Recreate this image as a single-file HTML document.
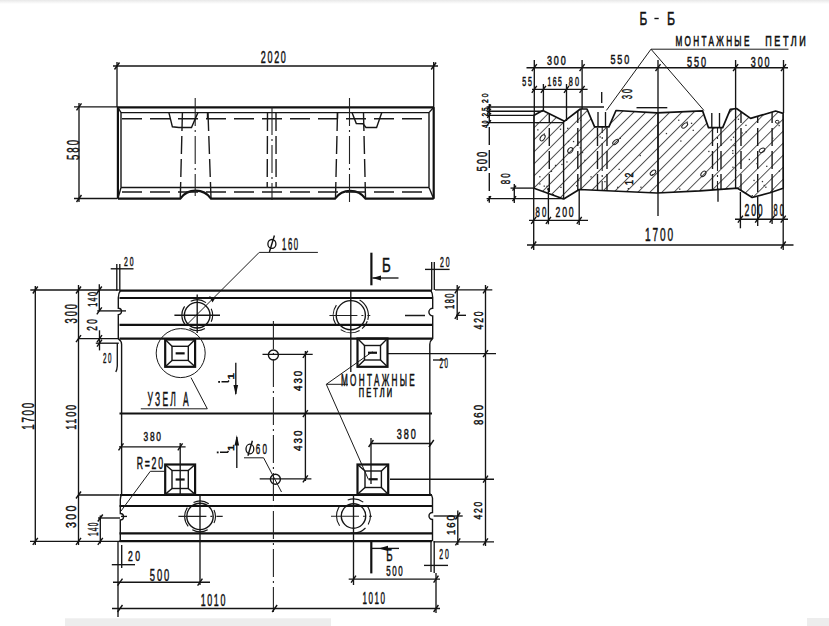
<!DOCTYPE html>
<html><head><meta charset="utf-8"><style>
html,body{margin:0;padding:0;background:#fff;}
body{width:829px;height:626px;overflow:hidden;}
svg{display:block;}
.s{stroke:#151515;stroke-width:1.35;fill:none;}
.l{stroke:#1a1a1a;stroke-width:1;fill:none;}
.k{stroke:#111;stroke-width:1.4;fill:none;}
.t{stroke:#111;stroke-width:2.2;fill:none;}
.m{stroke:#151515;stroke-width:1.4;fill:none;}
.d{stroke:#1a1a1a;stroke-width:1.4;fill:none;stroke-dasharray:18 5;}
.h{stroke:#1a1a1a;stroke-width:1.5;fill:none;stroke-dasharray:20 8;}
.c{stroke:#222;stroke-width:1.1;fill:none;stroke-dasharray:28 4 2 4;}
text{font-family:"Liberation Sans",sans-serif;fill:#111;stroke:#111;stroke-width:0.5px;}
text.thin{stroke-width:0.6px;}
</style></head><body>
<svg width="829" height="626" viewBox="0 0 829 626">
<defs>
<pattern id="hatch" patternUnits="userSpaceOnUse" width="8.5" height="8.5" patternTransform="rotate(45)">
<line x1="0" y1="0" x2="0" y2="8.5" stroke="#1a1a1a" stroke-width="1.45"/>
</pattern>
</defs>
<rect width="829" height="626" fill="#fff"/>

<line class="s" x1="113" y1="66" x2="438" y2="66"/>
<line class="s" x1="117" y1="62" x2="117" y2="107"/>
<line class="s" x1="433.7" y1="62" x2="433.7" y2="108"/>
<line class="k" x1="114.5" y1="69.5" x2="119.5" y2="62.5"/>
<line class="k" x1="431.2" y1="69.5" x2="436.1" y2="62.5"/>
<text transform="translate(260.8 62.7) scale(0.539 1)" style="font-size:16.7px;letter-spacing:3.09px;" >2020</text>
<line class="s" x1="79" y1="103" x2="79" y2="202"/>
<line class="s" x1="74" y1="106.8" x2="117" y2="106.8"/>
<line class="s" x1="74" y1="198.5" x2="117" y2="198.5"/>
<line class="k" x1="76.5" y1="110.3" x2="81.5" y2="103.3"/>
<line class="k" x1="76.5" y1="202.0" x2="81.5" y2="195.0"/>
<text transform="translate(78.5 160.0) rotate(-90) scale(0.573 1)" style="font-size:16.7px;letter-spacing:3.49px;" >580</text>
<line class="t" x1="117" y1="107.3" x2="433.7" y2="107.3"/>
<line class="t" x1="117.9" y1="107.3" x2="117.9" y2="198.7"/>
<line class="t" x1="433.7" y1="107.3" x2="433.7" y2="198.7"/>
<line class="m" x1="121" y1="112.6" x2="429" y2="112.6"/>
<line class="m" x1="121" y1="112.6" x2="121" y2="187.5"/>
<line class="m" x1="429" y1="112.6" x2="429" y2="187.5"/>
<line class="m" x1="121" y1="187.5" x2="429" y2="187.5"/>
<line class="s" x1="117.9" y1="107.3" x2="121" y2="112.6"/>
<line class="s" x1="433.7" y1="107.3" x2="429" y2="112.6"/>
<line class="s" x1="117.9" y1="198.7" x2="121" y2="187.5"/>
<line class="s" x1="433.7" y1="198.7" x2="429" y2="187.5"/>
<path class="t" d="M117.9 198.7 L180.3 198.7 A18.7 18.7 0 0 1 211 198.7 L335 198.7 A18.7 18.7 0 0 1 365.5 198.7 L433.7 198.7" />
<line class="h" x1="122" y1="118.8" x2="428" y2="118.8"/>
<line class="h" x1="122" y1="192" x2="428" y2="192"/>
<line class="d" x1="182.4" y1="113" x2="180.3" y2="198"/>
<line class="d" x1="208" y1="113" x2="211" y2="198"/>
<line class="d" x1="267.5" y1="113" x2="267.2" y2="188"/>
<line class="d" x1="276" y1="113" x2="276.1" y2="188"/>
<line class="d" x1="337.5" y1="113" x2="335.5" y2="198"/>
<line class="d" x1="363.5" y1="113" x2="365.5" y2="198"/>
<line class="c" x1="195.2" y1="98" x2="195.2" y2="196"/>
<line class="c" x1="272" y1="107" x2="272" y2="200"/>
<line class="c" x1="349.5" y1="98" x2="349.5" y2="202"/>
<path class="m" d="M168.9 112.6 L172.4 126.8 L178.9 127.5 L191.5 127.5 L197.9 112.6" />
<line class="m" x1="207.5" y1="112.6" x2="207.5" y2="118.7"/>
<path class="m" d="M352 112.6 L356.3 123.5 L363 123.8 L366 127.5 L376.6 127.5 L381.8 112.6" />
<line class="m" x1="337.5" y1="112.6" x2="337.5" y2="118.7"/>
<text transform="translate(639.4 24.6) scale(0.658 1)" style="font-size:18.0px;" >Б</text>
<line class="k" x1="654.4" y1="18.5" x2="658.7" y2="18.5"/>
<text transform="translate(666.9 24.6) scale(0.683 1)" style="font-size:18.0px;" >Б</text>
<text transform="translate(675.5 46.3) scale(0.584 1)" style="font-size:14.0px;letter-spacing:3.96px;" class="thin">МОНТАЖНЫЕ</text>
<text transform="translate(765.3 46.3) scale(0.638 1)" style="font-size:14.2px;letter-spacing:3.96px;" class="thin">ПЕТЛИ</text>
<line class="l" x1="651" y1="49.2" x2="788.5" y2="49.2"/>
<path class="l" d="M606.4 110.4 L651 49.2 L703.9 110.4" />
<clipPath id="secclip"><path d="M534 115.2 L542.8 110.6 L564.5 121.2 L580.3 109 L587 109 L594.6 126.9 L608.9 126.9 L616 110.5 L657 112.8 L702.6 110.9 L708.5 127.7 L722.7 127.7 L730.3 109.4 L736.5 108.5 L750.6 118.4 L775.6 111 L783.1 113.4 L783.2 188.2 L770 192.7 L752.2 197.5 L737.6 188.2 L700 190.9 L657 193 L579.2 189.5 L563.7 199 L534 188.2 Z"/></clipPath>
<path d="M534 115.2 L542.8 110.6 L564.5 121.2 L580.3 109 L587 109 L594.6 126.9 L608.9 126.9 L616 110.5 L657 112.8 L702.6 110.9 L708.5 127.7 L722.7 127.7 L730.3 109.4 L736.5 108.5 L750.6 118.4 L775.6 111 L783.1 113.4 L783.2 188.2 L770 192.7 L752.2 197.5 L737.6 188.2 L700 190.9 L657 193 L579.2 189.5 L563.7 199 L534 188.2 Z" fill="url(#hatch)" stroke="none"/>
<g clip-path="url(#secclip)">
<line class="d" x1="549.3" y1="105" x2="549.3" y2="202"/>
<line class="s" x1="563.6" y1="105" x2="563.6" y2="202"/>
<line class="d" x1="577.8" y1="105" x2="577.8" y2="202"/>
<line class="s" x1="581" y1="105" x2="581" y2="202"/>
<line class="d" x1="597.5" y1="105" x2="597.5" y2="202"/>
<line class="c" x1="602.2" y1="105" x2="602.2" y2="202"/>
<line class="d" x1="607" y1="105" x2="607" y2="202"/>
<line class="s" x1="658" y1="105" x2="658" y2="202"/>
<line class="d" x1="712.5" y1="105" x2="712.5" y2="202"/>
<line class="c" x1="717.5" y1="105" x2="717.5" y2="202"/>
<line class="d" x1="721" y1="105" x2="721" y2="202"/>
<line class="s" x1="735.6" y1="105" x2="735.6" y2="202"/>
<line class="d" x1="741" y1="105" x2="741" y2="202"/>
<line class="d" x1="757.7" y1="105" x2="757.7" y2="202"/>
<line class="d" x1="772.1" y1="105" x2="772.1" y2="202"/>
<ellipse cx="542.6" cy="137.8" rx="3.4" ry="2" transform="rotate(-55 542.6 137.8)" fill="none" stroke="#222" stroke-width="1"/>
<ellipse cx="570.3" cy="150.3" rx="3" ry="2.2" transform="rotate(-50 570.3 150.3)" fill="none" stroke="#222" stroke-width="1"/>
<ellipse cx="615.6" cy="142" rx="3.5" ry="1.7" transform="rotate(-40 615.6 142)" fill="none" stroke="#222" stroke-width="1"/>
<ellipse cx="684.7" cy="125.5" rx="3.5" ry="1.8" transform="rotate(-40 684.7 125.5)" fill="none" stroke="#222" stroke-width="1"/>
<ellipse cx="653" cy="172.7" rx="3.3" ry="1.9" transform="rotate(-40 653 172.7)" fill="none" stroke="#222" stroke-width="1"/>
<ellipse cx="762" cy="150.3" rx="3" ry="1.9" transform="rotate(-30 762 150.3)" fill="none" stroke="#222" stroke-width="1"/>
<ellipse cx="703.4" cy="173.8" rx="3.2" ry="2" transform="rotate(-50 703.4 173.8)" fill="none" stroke="#222" stroke-width="1"/>
<ellipse cx="777.2" cy="121.8" rx="1.8" ry="1.5" transform="rotate(0 777.2 121.8)" fill="none" stroke="#222" stroke-width="1"/>
<rect x="539.2" y="183.3" width="1.3" height="1.3" fill="#333"/><rect x="599.5" y="136.3" width="1.3" height="1.3" fill="#333"/><rect x="692.6" y="129.7" width="1.3" height="1.3" fill="#333"/><rect x="748.7" y="158.8" width="1.3" height="1.3" fill="#333"/><rect x="543.6" y="185.5" width="1.3" height="1.3" fill="#333"/><rect x="651.8" y="174.1" width="1.3" height="1.3" fill="#333"/><rect x="732.2" y="152.7" width="1.3" height="1.3" fill="#333"/><rect x="765.2" y="186.6" width="1.3" height="1.3" fill="#333"/><rect x="559.9" y="128.6" width="1.3" height="1.3" fill="#333"/><rect x="679.1" y="188.5" width="1.3" height="1.3" fill="#333"/><rect x="763.6" y="184.8" width="1.3" height="1.3" fill="#333"/><rect x="778.8" y="170.4" width="1.3" height="1.3" fill="#333"/><rect x="576.0" y="185.1" width="1.3" height="1.3" fill="#333"/><rect x="772.3" y="188.6" width="1.3" height="1.3" fill="#333"/><rect x="739.7" y="162.7" width="1.3" height="1.3" fill="#333"/><rect x="605.8" y="122.9" width="1.3" height="1.3" fill="#333"/><rect x="778.5" y="124.9" width="1.3" height="1.3" fill="#333"/><rect x="732.1" y="150.0" width="1.3" height="1.3" fill="#333"/><rect x="572.9" y="140.9" width="1.3" height="1.3" fill="#333"/><rect x="686.6" y="121.5" width="1.3" height="1.3" fill="#333"/><rect x="617.1" y="186.7" width="1.3" height="1.3" fill="#333"/><rect x="554.9" y="164.8" width="1.3" height="1.3" fill="#333"/><rect x="543.7" y="133.4" width="1.3" height="1.3" fill="#333"/><rect x="546.4" y="185.7" width="1.3" height="1.3" fill="#333"/><rect x="612.9" y="192.8" width="1.3" height="1.3" fill="#333"/><rect x="678.1" y="119.6" width="1.3" height="1.3" fill="#333"/><rect x="690.9" y="122.7" width="1.3" height="1.3" fill="#333"/><rect x="550.8" y="170.7" width="1.3" height="1.3" fill="#333"/><rect x="772.0" y="137.6" width="1.3" height="1.3" fill="#333"/><rect x="732.9" y="136.6" width="1.3" height="1.3" fill="#333"/><rect x="581.9" y="151.9" width="1.3" height="1.3" fill="#333"/><rect x="745.6" y="131.2" width="1.3" height="1.3" fill="#333"/><rect x="618.5" y="168.7" width="1.3" height="1.3" fill="#333"/><rect x="665.8" y="132.9" width="1.3" height="1.3" fill="#333"/><rect x="741.4" y="132.3" width="1.3" height="1.3" fill="#333"/><rect x="604.3" y="181.0" width="1.3" height="1.3" fill="#333"/><rect x="733.5" y="144.9" width="1.3" height="1.3" fill="#333"/><rect x="567.8" y="140.8" width="1.3" height="1.3" fill="#333"/><rect x="730.5" y="139.2" width="1.3" height="1.3" fill="#333"/><rect x="537.1" y="191.6" width="1.3" height="1.3" fill="#333"/><rect x="751.6" y="195.0" width="1.3" height="1.3" fill="#333"/><rect x="642.4" y="192.1" width="1.3" height="1.3" fill="#333"/><rect x="590.4" y="176.2" width="1.3" height="1.3" fill="#333"/><rect x="680.2" y="140.4" width="1.3" height="1.3" fill="#333"/><rect x="547.0" y="188.5" width="1.3" height="1.3" fill="#333"/><rect x="706.0" y="190.1" width="1.3" height="1.3" fill="#333"/><rect x="756.4" y="163.0" width="1.3" height="1.3" fill="#333"/><rect x="539.2" y="176.1" width="1.3" height="1.3" fill="#333"/><rect x="578.1" y="141.4" width="1.3" height="1.3" fill="#333"/><rect x="766.1" y="165.7" width="1.3" height="1.3" fill="#333"/><rect x="619.6" y="137.7" width="1.3" height="1.3" fill="#333"/><rect x="584.3" y="159.7" width="1.3" height="1.3" fill="#333"/><rect x="578.0" y="179.8" width="1.3" height="1.3" fill="#333"/><rect x="761.8" y="180.9" width="1.3" height="1.3" fill="#333"/><rect x="737.8" y="118.6" width="1.3" height="1.3" fill="#333"/><rect x="639.6" y="154.9" width="1.3" height="1.3" fill="#333"/><rect x="536.4" y="122.3" width="1.3" height="1.3" fill="#333"/><rect x="567.1" y="127.7" width="1.3" height="1.3" fill="#333"/><rect x="552.8" y="194.0" width="1.3" height="1.3" fill="#333"/><rect x="745.3" y="124.7" width="1.3" height="1.3" fill="#333"/><rect x="566.3" y="161.3" width="1.3" height="1.3" fill="#333"/><rect x="579.7" y="147.1" width="1.3" height="1.3" fill="#333"/><rect x="732.3" y="166.6" width="1.3" height="1.3" fill="#333"/><rect x="708.2" y="150.8" width="1.3" height="1.3" fill="#333"/><rect x="640.3" y="186.6" width="1.3" height="1.3" fill="#333"/><rect x="627.7" y="188.0" width="1.3" height="1.3" fill="#333"/><rect x="735.2" y="169.7" width="1.3" height="1.3" fill="#333"/><rect x="753.4" y="179.8" width="1.3" height="1.3" fill="#333"/><rect x="561.3" y="163.8" width="1.3" height="1.3" fill="#333"/><rect x="537.2" y="129.2" width="1.3" height="1.3" fill="#333"/><rect x="560.3" y="186.7" width="1.3" height="1.3" fill="#333"/><rect x="579.9" y="119.8" width="1.3" height="1.3" fill="#333"/>
</g>
<path d="M534 115.2 L542.8 110.6 L564.5 121.2 L580.3 109 L587 109 L594.6 126.9 L608.9 126.9 L616 110.5 L657 112.8 L702.6 110.9 L708.5 127.7 L722.7 127.7 L730.3 109.4 L736.5 108.5 L750.6 118.4 L775.6 111 L783.1 113.4 L783.2 188.2 L770 192.7 L752.2 197.5 L737.6 188.2 L700 190.9 L657 193 L579.2 189.5 L563.7 199 L534 188.2 Z" fill="none" stroke="#111" stroke-width="1.7" stroke-linejoin="round"/>
<path class="s" d="M598 126.9 L598 112 M605.5 126.9 L605.5 112 M711.8 127.7 L711.8 113 M719.5 127.7 L719.5 113" />
<text transform="translate(632.3 99.0) rotate(-90) scale(0.490 1)" style="font-size:14.7px;letter-spacing:4.08px;" >30</text>
<text transform="translate(633.0 185.0) rotate(-90) scale(0.886 1)" style="font-size:10.0px;letter-spacing:2.77px;" >12</text>
<line class="s" x1="636.5" y1="107.7" x2="667.3" y2="107.7"/>
<line class="s" x1="601.7" y1="92" x2="601.7" y2="103"/>
<line class="s" x1="526.5" y1="67.7" x2="788" y2="67.7"/>
<line class="s" x1="532" y1="89.4" x2="587.6" y2="89.4"/>
<line class="k" x1="531.8" y1="71.2" x2="536.8" y2="64.2"/>
<line class="k" x1="579.6" y1="71.2" x2="584.6" y2="64.2"/>
<line class="k" x1="655.5" y1="71.2" x2="660.5" y2="64.2"/>
<line class="k" x1="733.1" y1="71.2" x2="738.1" y2="64.2"/>
<line class="k" x1="781.0" y1="71.2" x2="786.0" y2="64.2"/>
<line class="k" x1="531.8" y1="92.9" x2="536.8" y2="85.9"/>
<line class="k" x1="540.9" y1="92.9" x2="545.9" y2="85.9"/>
<line class="k" x1="564.0" y1="92.9" x2="569.0" y2="85.9"/>
<line class="k" x1="579.6" y1="92.9" x2="584.6" y2="85.9"/>
<line class="s" x1="534.3" y1="60" x2="534.3" y2="115"/>
<line class="s" x1="582.1" y1="60" x2="582.1" y2="109"/>
<line class="s" x1="543.4" y1="84" x2="543.4" y2="111"/>
<line class="s" x1="566.5" y1="84" x2="566.5" y2="121"/>
<line class="s" x1="658" y1="60" x2="658" y2="216"/>
<line class="s" x1="735.6" y1="60" x2="735.6" y2="109"/>
<line class="s" x1="783.5" y1="60" x2="783.5" y2="113"/>
<text transform="translate(546.9 65.4) scale(0.733 1)" style="font-size:12.3px;letter-spacing:2.56px;" >300</text>
<text transform="translate(610.4 64.0) scale(0.664 1)" style="font-size:13.6px;letter-spacing:2.83px;" >550</text>
<text transform="translate(687.0 66.5) scale(0.637 1)" style="font-size:14.3px;letter-spacing:2.98px;" >550</text>
<text transform="translate(750.8 66.5) scale(0.630 1)" style="font-size:14.3px;letter-spacing:2.98px;" >300</text>
<text transform="translate(522.2 85.5) scale(0.580 1)" style="font-size:12.2px;letter-spacing:3.38px;" >55</text>
<text transform="translate(547.6 85.5) scale(0.563 1)" style="font-size:12.0px;letter-spacing:2.50px;" >165</text>
<text transform="translate(568.8 85.8) scale(0.591 1)" style="font-size:12.4px;letter-spacing:3.45px;" >80</text>
<line class="s" x1="486.6" y1="107" x2="604" y2="107"/>
<line class="s" x1="486.6" y1="111.2" x2="542.8" y2="111.2"/>
<line class="s" x1="486.6" y1="115.3" x2="534.4" y2="115.3"/>
<line class="s" x1="486.6" y1="122.6" x2="564" y2="122.6"/>
<line class="d" x1="489.3" y1="103.9" x2="489.3" y2="202.7"/>
<line class="s" x1="510.5" y1="188.1" x2="534.4" y2="188.1"/>
<line class="s" x1="486.6" y1="198.6" x2="563" y2="198.6"/>
<line class="s" x1="514.3" y1="184" x2="514.3" y2="203"/>
<line class="k" x1="487.4" y1="109.5" x2="490.9" y2="104.5"/>
<line class="k" x1="487.4" y1="113.7" x2="490.9" y2="108.7"/>
<line class="k" x1="487.4" y1="117.8" x2="490.9" y2="112.8"/>
<line class="k" x1="487.4" y1="125.1" x2="490.9" y2="120.1"/>
<line class="k" x1="487.4" y1="201.1" x2="490.9" y2="196.1"/>
<line class="k" x1="512.5" y1="190.6" x2="516.0" y2="185.6"/>
<line class="k" x1="512.5" y1="201.1" x2="516.0" y2="196.1"/>
<text transform="translate(486.6 171.5) rotate(-90) scale(0.638 1)" style="font-size:14.9px;letter-spacing:3.10px;" >500</text>
<text transform="translate(487.7 127.8) rotate(-90) scale(0.585 1)" style="font-size:9.0px;letter-spacing:2.50px;" >40</text>
<text transform="translate(487.7 116.4) rotate(-90) scale(0.713 1)" style="font-size:9.0px;letter-spacing:2.50px;" >25</text>
<text transform="translate(487.7 102.9) rotate(-90) scale(0.753 1)" style="font-size:9.0px;letter-spacing:2.50px;" >20</text>
<text transform="translate(510.0 184.3) rotate(-90) scale(0.590 1)" style="font-size:13.4px;letter-spacing:3.73px;" >80</text>
<line class="s" x1="529" y1="220.4" x2="588" y2="220.4"/>
<line class="s" x1="735" y1="219.2" x2="788" y2="219.2"/>
<line class="s" x1="527" y1="245" x2="793.5" y2="245"/>
<line class="s" x1="533.7" y1="188" x2="533.7" y2="250"/>
<line class="s" x1="548.4" y1="188" x2="548.4" y2="224.3"/>
<line class="s" x1="579.2" y1="189" x2="579.2" y2="225"/>
<line class="s" x1="740.4" y1="192" x2="740.4" y2="228.3"/>
<line class="s" x1="757.7" y1="197" x2="757.7" y2="226"/>
<line class="s" x1="772.1" y1="192" x2="772.1" y2="224"/>
<line class="s" x1="783.2" y1="188" x2="783.2" y2="250"/>
<line class="s" x1="718" y1="188.4" x2="718" y2="201.7"/>
<line class="k" x1="531.2" y1="223.9" x2="536.2" y2="216.9"/>
<line class="k" x1="545.9" y1="223.9" x2="550.9" y2="216.9"/>
<line class="k" x1="576.8" y1="223.9" x2="581.7" y2="216.9"/>
<line class="k" x1="737.9" y1="222.7" x2="742.9" y2="215.7"/>
<line class="k" x1="755.2" y1="222.7" x2="760.2" y2="215.7"/>
<line class="k" x1="769.6" y1="222.7" x2="774.6" y2="215.7"/>
<line class="k" x1="780.8" y1="222.7" x2="785.7" y2="215.7"/>
<line class="k" x1="531.2" y1="248.5" x2="536.2" y2="241.5"/>
<line class="k" x1="780.8" y1="248.5" x2="785.7" y2="241.5"/>
<text transform="translate(535.5 216.5) scale(0.561 1)" style="font-size:14.0px;letter-spacing:3.89px;" >80</text>
<text transform="translate(555.6 216.5) scale(0.619 1)" style="font-size:14.0px;letter-spacing:2.92px;" >200</text>
<text transform="translate(744.6 216.2) scale(0.557 1)" style="font-size:15.6px;letter-spacing:3.25px;" >200</text>
<text transform="translate(773.6 216.2) scale(0.472 1)" style="font-size:15.6px;letter-spacing:4.32px;" >80</text>
<text transform="translate(645.1 240.8) scale(0.561 1)" style="font-size:18.0px;letter-spacing:3.33px;" >1700</text>
<line class="t" x1="119.5" y1="290.7" x2="432" y2="290.7"/>
<line class="t" x1="119.5" y1="298" x2="432" y2="298"/>
<line class="t" x1="119.5" y1="324.8" x2="432" y2="324.8"/>
<line class="t" x1="119.5" y1="338.7" x2="432" y2="338.7"/>
<line class="t" x1="119.5" y1="413.5" x2="432" y2="413.5"/>
<line class="t" x1="119.5" y1="495" x2="432" y2="495"/>
<line class="t" x1="119.5" y1="506" x2="432" y2="506"/>
<line class="t" x1="119.5" y1="533.3" x2="432" y2="533.3"/>
<line class="t" x1="119.5" y1="541.2" x2="432" y2="541.2"/>
<path class="m" d="M120.4 290.7 Q118.3 293 118.3 297.7 L118.3 308.3 A3.2 3.2 0 0 1 118.3 314.7 L118.3 338.6 Q121.6 341 121.6 344.4 L121.6 494.5 Q120.3 497 120.3 500 L120.3 513.5 A3.2 3.2 0 0 1 120.3 519.9 L120.3 541.2" />
<path class="m" d="M430.8 290.3 Q432.7 293 432.7 297.5 L432.7 308.3 A3.8 3.8 0 0 0 432.7 315.9 L432.7 338.4 Q429.8 341 429.8 344.2 L429.8 493.7 Q432.5 495.5 432.5 498 L432.5 512.5 A3.5 3.5 0 0 0 432.5 519.5 L432.5 541.2" />
<circle class="m" cx="197.2" cy="315.2" r="12.8"/>
<path class="s" d="M185.4 325.1 A15.4 15.4 0 0 1 184.6 306.4 M190.7 301.2 A15.4 15.4 0 0 1 206.0 302.6 M211.2 308.7 A15.4 15.4 0 0 1 211.2 321.7 M204.9 328.5 A15.4 15.4 0 0 1 189.5 328.5" style="stroke-width:1.1"/>
<circle class="m" cx="350.8" cy="315.2" r="14.6"/>
<path class="s" d="M335.6 324.0 A17.6 17.6 0 0 1 336.4 305.1 M359.6 300.0 A17.6 17.6 0 0 1 367.8 319.8 M367.3 321.2 A17.6 17.6 0 0 1 362.1 328.7 M359.6 330.4 A17.6 17.6 0 0 1 340.7 329.6" style="stroke-width:1.1"/>
<circle class="m" cx="200" cy="516.4" r="13.2"/>
<path class="s" d="M188.2 526.3 A15.4 15.4 0 0 1 187.4 507.6 M193.5 502.4 A15.4 15.4 0 0 1 208.8 503.8 M214.0 509.9 A15.4 15.4 0 0 1 214.0 522.9 M207.7 529.7 A15.4 15.4 0 0 1 192.3 529.7" style="stroke-width:1.1"/>
<circle class="m" cx="353.5" cy="516" r="12.2"/>
<path class="s" d="M339.6 525.8 A17 17 0 0 1 339.6 506.2 M347.7 500.0 A17 17 0 0 1 363.3 502.1 M366.5 505.1 A17 17 0 0 1 368.2 524.5 M365.5 528.0 A17 17 0 0 1 350.5 532.7" style="stroke-width:1.1"/>
<line class="s" x1="174.4" y1="315.2" x2="220" y2="315.2"/>
<line class="s" x1="197.2" y1="294.4" x2="197.2" y2="333"/>
<line class="c" x1="329.4" y1="315.5" x2="370.3" y2="315.5"/>
<line class="h" x1="405" y1="315.5" x2="428" y2="315.5"/>
<line class="c" x1="178.4" y1="516.4" x2="222.7" y2="516.4"/>
<line class="s" x1="121" y1="516.4" x2="127" y2="516.4"/>
<line class="c" x1="331" y1="516.2" x2="372" y2="516.2"/>
<circle class="m" cx="273.4" cy="355" r="5"/>
<circle class="m" cx="275.4" cy="479.3" r="5"/>
<rect class="t" x="165.2" y="339.5" width="29.9" height="27.3"/>
<rect class="m" x="172" y="346.3" width="16.3" height="14.1"/>
<path class="m" d="M165.2 339.5 L172 346.3 M195.1 339.5 L188.3 346.3 M165.2 366.8 L172 360.4 M195.1 366.8 L188.3 360.4" />
<line class="t" x1="175.65" y1="353.35" x2="184.65" y2="353.35"/>
<rect class="t" x="357.5" y="338.5" width="30.0" height="28.3"/>
<rect class="m" x="364.5" y="345.5" width="16.0" height="14.5"/>
<path class="m" d="M357.5 338.5 L364.5 345.5 M387.5 338.5 L380.5 345.5 M357.5 366.8 L364.5 360 M387.5 366.8 L380.5 360" />
<line class="t" x1="368.0" y1="352.75" x2="377.0" y2="352.75"/>
<rect class="t" x="165.2" y="464.5" width="29.9" height="29.9"/>
<rect class="m" x="172" y="470.5" width="16.3" height="18.0"/>
<path class="m" d="M165.2 464.5 L172 470.5 M195.1 464.5 L188.3 470.5 M165.2 494.4 L172 488.5 M195.1 494.4 L188.3 488.5" />
<line class="t" x1="175.65" y1="479.5" x2="184.65" y2="479.5"/>
<rect class="t" x="357.5" y="464.5" width="30.7" height="29.8"/>
<rect class="m" x="365" y="471" width="16.4" height="16.5"/>
<path class="m" d="M357.5 464.5 L365 471 M388.2 464.5 L381.4 471 M357.5 494.3 L365 487.5 M388.2 494.3 L381.4 487.5" />
<line class="t" x1="368.7" y1="479.25" x2="377.7" y2="479.25"/>
<circle class="l" cx="180.7" cy="353.1" r="24.5"/>
<line class="c" x1="273.4" y1="321" x2="273.4" y2="612"/>
<line class="s" x1="350.8" y1="290" x2="350.8" y2="372"/>
<line class="s" x1="200" y1="494" x2="200" y2="585"/>
<line class="s" x1="353.5" y1="494" x2="353.5" y2="585"/>
<line class="s" x1="180.2" y1="443" x2="180.2" y2="496"/>
<line class="s" x1="371" y1="438" x2="371" y2="484"/>
<line class="s" x1="305.4" y1="351" x2="305.4" y2="481"/>
<line class="s" x1="262.5" y1="354.4" x2="312.7" y2="354.4"/>
<line class="s" x1="259.7" y1="478.8" x2="311.4" y2="478.8"/>
<line class="k" x1="302.9" y1="357.9" x2="307.8" y2="350.9"/>
<line class="k" x1="302.9" y1="417.2" x2="307.8" y2="410.2"/>
<line class="k" x1="302.9" y1="482.3" x2="307.8" y2="475.3"/>
<text transform="translate(301.8 391.0) rotate(-90) scale(0.932 1)" style="font-size:10.4px;letter-spacing:2.18px;" >430</text>
<text transform="translate(301.8 450.9) rotate(-90) scale(0.937 1)" style="font-size:10.4px;letter-spacing:2.18px;" >430</text>
<line class="s" x1="235.8" y1="362.7" x2="235.8" y2="394"/>
<path d="M233.5 385 L235.8 395.5 L238.1 385 Z" fill="#111"/>
<line class="s" x1="236.8" y1="437" x2="236.8" y2="468"/>
<path d="M234.5 445.5 L236.8 435 L239.1 445.5 Z" fill="#111"/>
<path class="k" d="M221.5 381.8 L228 381.8 L229 380.5"/><rect x="218.2" y="381" width="1.8" height="1.8" fill="#111"/>
<text transform="translate(234.0 379.5) rotate(-90) scale(1.335 1)" style="font-size:8.7px;" >1</text>
<path class="k" d="M220 452.3 L227.5 452.3 L228.5 451"/><rect x="216.8" y="451.5" width="1.8" height="1.8" fill="#111"/>
<text transform="translate(233.5 451.0) rotate(-90) scale(1.335 1)" style="font-size:8.7px;" >1</text>
<ellipse cx="249.9" cy="449" rx="3.9" ry="4.8" fill="none" stroke="#111" stroke-width="1.3"/>
<line class="k" x1="252.4" y1="440.7" x2="247.9" y2="455.8"/>
<text transform="translate(255.7 453.5) scale(0.533 1)" style="font-size:15.1px;letter-spacing:4.20px;" >60</text>
<path class="l" d="M244 457.8 L263.6 457.8 L281.5 492" />
<text transform="translate(147.4 405.5) scale(0.441 1)" style="font-size:19.3px;letter-spacing:5.24px;" >УЗЕЛ А</text>
<path class="l" d="M140.8 408.8 L207.3 408.8 L191 377.6" />
<text transform="translate(341.0 385.8) scale(0.498 1)" style="font-size:16.4px;letter-spacing:4.64px;" class="thin">МОНТАЖНЫЕ</text>
<text transform="translate(358.8 396.5) scale(0.625 1)" style="font-size:11.9px;letter-spacing:3.32px;" class="thin">ПЕТЛИ</text>
<path class="l" d="M348 384.3 L326.3 384.3 L372.5 351.7 M326.3 384.3 L368.4 479.4" />
<line class="s" x1="119" y1="446.8" x2="185.6" y2="446.8"/>
<line class="k" x1="118.5" y1="450.3" x2="123.5" y2="443.3"/>
<line class="k" x1="177.8" y1="450.3" x2="182.6" y2="443.3"/>
<text transform="translate(143.5 441.4) scale(0.624 1)" style="font-size:13.4px;letter-spacing:2.80px;" >380</text>
<line class="s" x1="371" y1="443.5" x2="431.4" y2="443.5"/>
<line class="k" x1="368.6" y1="447.0" x2="373.4" y2="440.0"/>
<line class="k" x1="428.9" y1="447.0" x2="433.8" y2="440.0"/>
<text transform="translate(396.8 439.0) scale(0.637 1)" style="font-size:14.3px;letter-spacing:2.98px;" >380</text>
<text transform="translate(136.7 468.6) scale(0.558 1)" style="font-size:15.6px;letter-spacing:3.14px;" >R=20</text>
<path class="l" d="M165.2 471.3 L150.3 471.3 L121 511" />
<ellipse cx="271.9" cy="243.9" rx="4" ry="4.4" fill="none" stroke="#111" stroke-width="1.3"/>
<line class="k" x1="274.4" y1="235.5" x2="269.4" y2="252"/>
<text transform="translate(282.0 249.8) scale(0.474 1)" style="font-size:16.3px;letter-spacing:3.40px;" >160</text>
<path class="l" d="M317.9 252.4 L259.2 252.4 L186.5 325" />
<path d="M209 296 L215 298.5 L212.5 302.5 Z" fill="#111"/>
<line class="t" x1="371.4" y1="252.7" x2="371.4" y2="285.3"/>
<line class="s" x1="372.4" y1="278" x2="398.5" y2="278"/>
<path d="M372.4 278 L381 275.5 L381 280.5 Z" fill="#111"/>
<text transform="translate(382.0 272.0) scale(0.657 1)" style="font-size:20.3px;" >Б</text>
<line class="t" x1="371.3" y1="542" x2="371.3" y2="573.4"/>
<line class="s" x1="371.3" y1="548.4" x2="399" y2="548.4"/>
<path d="M378.5 548.4 L388 545.8 L388 551 Z" fill="#111"/>
<text transform="translate(386.2 561.2) scale(0.614 1)" style="font-size:15.8px;" >Б</text>
<line class="s" x1="30.3" y1="290" x2="118.8" y2="290"/>
<line class="s" x1="35.3" y1="286" x2="35.3" y2="545"/>
<line class="s" x1="78.5" y1="285" x2="78.5" y2="545"/>
<line class="s" x1="99.3" y1="284.3" x2="99.3" y2="310.9"/>
<line class="s" x1="78.5" y1="338.6" x2="118.8" y2="338.6"/>
<line class="s" x1="78.5" y1="495" x2="119" y2="495"/>
<line class="s" x1="30" y1="541.3" x2="120" y2="541.3"/>
<line class="k" x1="32.8" y1="293.5" x2="37.8" y2="286.5"/>
<line class="k" x1="32.8" y1="544.8" x2="37.8" y2="537.8"/>
<line class="k" x1="76.0" y1="293.5" x2="81.0" y2="286.5"/>
<line class="k" x1="76.0" y1="342.1" x2="81.0" y2="335.1"/>
<line class="k" x1="76.0" y1="498.5" x2="81.0" y2="491.5"/>
<line class="k" x1="76.0" y1="544.8" x2="81.0" y2="537.8"/>
<text transform="translate(33.5 429.7) rotate(-90) scale(0.604 1)" style="font-size:16.0px;letter-spacing:2.96px;" >1700</text>
<text transform="translate(76.6 323.5) rotate(-90) scale(0.584 1)" style="font-size:16.0px;letter-spacing:3.34px;" >300</text>
<text transform="translate(76.0 429.7) rotate(-90) scale(0.643 1)" style="font-size:14.3px;letter-spacing:2.56px;" >1100</text>
<text transform="translate(76.0 528.0) rotate(-90) scale(0.751 1)" style="font-size:14.3px;letter-spacing:2.98px;" >300</text>
<text transform="translate(96.5 306.8) rotate(-90) scale(0.539 1)" style="font-size:13.1px;letter-spacing:2.74px;" >140</text>
<text transform="translate(96.5 330.7) rotate(-90) scale(0.580 1)" style="font-size:14.3px;letter-spacing:3.96px;" >20</text>
<text transform="translate(102.9 363.0) scale(0.405 1)" style="font-size:15.3px;letter-spacing:4.24px;" >20</text>
<path class="s" d="M117.3 343 L117.3 366 Q117 370 115.8 372" />
<text transform="translate(97.6 536.1) rotate(-90) scale(0.434 1)" style="font-size:15.0px;letter-spacing:3.13px;" >140</text>
<line class="s" x1="97.2" y1="310.9" x2="126" y2="310.9"/>
<line class="s" x1="99.5" y1="330.3" x2="99.5" y2="350.4"/>
<line class="s" x1="100.3" y1="515.4" x2="100.3" y2="543.4"/>
<line class="s" x1="98" y1="518" x2="120" y2="518"/>
<line class="k" x1="96.8" y1="293.5" x2="101.8" y2="286.5"/>
<line class="k" x1="96.8" y1="314.4" x2="101.8" y2="307.4"/>
<line class="k" x1="97.8" y1="521.5" x2="102.8" y2="514.5"/>
<line class="k" x1="97.8" y1="544.8" x2="102.8" y2="537.8"/>
<line class="s" x1="95.8" y1="343.2" x2="118.8" y2="343.2"/>
<line class="k" x1="97.0" y1="342.1" x2="102.0" y2="335.1"/>
<line class="k" x1="97.0" y1="346.7" x2="102.0" y2="339.7"/>
<text transform="translate(124.0 266.4) scale(0.510 1)" style="font-size:13.4px;letter-spacing:3.73px;" >20</text>
<line class="s" x1="110.7" y1="268.8" x2="133.5" y2="268.8"/>
<line class="s" x1="116.8" y1="264" x2="116.8" y2="290.7"/>
<line class="s" x1="119.8" y1="264" x2="119.8" y2="290.7"/>
<line class="s" x1="425" y1="269.4" x2="449.6" y2="269.4"/>
<line class="s" x1="431.7" y1="262" x2="431.7" y2="290"/>
<line class="s" x1="434.3" y1="262" x2="434.3" y2="290"/>
<text transform="translate(440.0 266.9) scale(0.470 1)" style="font-size:14.7px;letter-spacing:4.08px;" >20</text>
<line class="s" x1="435" y1="289.8" x2="492.3" y2="289.8"/>
<line class="s" x1="456" y1="315.3" x2="466" y2="315.3"/>
<line class="s" x1="457.2" y1="285" x2="457.2" y2="320"/>
<line class="s" x1="485.5" y1="285" x2="485.5" y2="546"/>
<line class="k" x1="454.8" y1="293.3" x2="459.6" y2="286.3"/>
<line class="k" x1="454.8" y1="318.8" x2="459.6" y2="311.8"/>
<line class="k" x1="483.1" y1="293.3" x2="487.9" y2="286.3"/>
<line class="k" x1="483.1" y1="357.1" x2="487.9" y2="350.1"/>
<text transform="translate(454.0 309.0) rotate(-90) scale(0.574 1)" style="font-size:12.9px;letter-spacing:2.68px;" >180</text>
<text transform="translate(482.5 329.4) rotate(-90) scale(0.667 1)" style="font-size:12.9px;letter-spacing:2.68px;" >420</text>
<line class="s" x1="387.7" y1="353.6" x2="496" y2="353.6"/>
<text transform="translate(439.4 367.9) scale(0.438 1)" style="font-size:14.1px;letter-spacing:3.92px;" >20</text>
<line class="s" x1="433" y1="360" x2="445" y2="360"/>
<text transform="translate(482.5 425.0) rotate(-90) scale(0.745 1)" style="font-size:12.9px;letter-spacing:2.68px;" >860</text>
<line class="s" x1="390" y1="479.2" x2="494" y2="479.2"/>
<line class="k" x1="483.1" y1="482.7" x2="487.9" y2="475.7"/>
<line class="s" x1="433.6" y1="516" x2="462.7" y2="516"/>
<line class="s" x1="433.6" y1="541.8" x2="494" y2="541.8"/>
<line class="s" x1="457.8" y1="510.5" x2="457.8" y2="545"/>
<line class="k" x1="455.4" y1="519.5" x2="460.2" y2="512.5"/>
<line class="k" x1="455.4" y1="545.3" x2="460.2" y2="538.3"/>
<line class="k" x1="483.1" y1="545.3" x2="487.9" y2="538.3"/>
<text transform="translate(481.7 519.4) rotate(-90) scale(0.765 1)" style="font-size:11.1px;letter-spacing:2.33px;" >420</text>
<text transform="translate(455.0 535.0) rotate(-90) scale(0.838 1)" style="font-size:11.4px;letter-spacing:2.39px;" >160</text>
<text transform="translate(439.3 559.3) scale(0.470 1)" style="font-size:14.7px;letter-spacing:4.08px;" >20</text>
<line class="s" x1="431" y1="541" x2="431" y2="572"/>
<line class="s" x1="434.2" y1="541" x2="434.2" y2="573"/>
<line class="s" x1="424" y1="565.4" x2="448" y2="565.4"/>
<line class="s" x1="118" y1="541" x2="118" y2="617"/>
<line class="s" x1="121.7" y1="545" x2="121.7" y2="568"/>
<line class="s" x1="111.8" y1="564.7" x2="135" y2="564.7"/>
<text transform="translate(128.0 561.4) scale(0.618 1)" style="font-size:14.0px;letter-spacing:3.88px;" >20</text>
<line class="s" x1="113" y1="582.2" x2="210" y2="582.2"/>
<line class="k" x1="117.5" y1="585.7" x2="122.5" y2="578.7"/>
<line class="k" x1="197.6" y1="585.7" x2="202.4" y2="578.7"/>
<text transform="translate(149.7 581.2) scale(0.574 1)" style="font-size:16.4px;letter-spacing:3.43px;" >500</text>
<line class="s" x1="348.7" y1="579.1" x2="440" y2="579.1"/>
<line class="k" x1="351.1" y1="582.6" x2="355.9" y2="575.6"/>
<line class="k" x1="433.6" y1="582.6" x2="438.4" y2="575.6"/>
<text transform="translate(386.2 576.0) scale(0.540 1)" style="font-size:14.7px;letter-spacing:3.07px;" >500</text>
<line class="s" x1="112" y1="608.5" x2="440" y2="608.5"/>
<line class="k" x1="117.5" y1="612.0" x2="122.5" y2="605.0"/>
<line class="k" x1="272.2" y1="612.0" x2="277.1" y2="605.0"/>
<line class="k" x1="433.6" y1="612.0" x2="438.4" y2="605.0"/>
<text transform="translate(200.7 605.9) scale(0.535 1)" style="font-size:16.6px;letter-spacing:3.07px;" >1010</text>
<text transform="translate(362.6 604.0) scale(0.491 1)" style="font-size:16.4px;letter-spacing:3.04px;" >1010</text>
<line class="s" x1="436" y1="573" x2="436" y2="613"/>
<defs><linearGradient id="tg" x1="0" y1="0" x2="0" y2="1"><stop offset="0" stop-color="#e8e8e8"/><stop offset="1" stop-color="#fff"/></linearGradient></defs><rect x="0" y="0" width="829" height="4" fill="url(#tg)"/>
<rect x="65" y="618.3" width="266" height="8" fill="#ededed"/>
<rect x="807" y="618" width="22" height="8" fill="#ededed"/>
</svg>
</body></html>
